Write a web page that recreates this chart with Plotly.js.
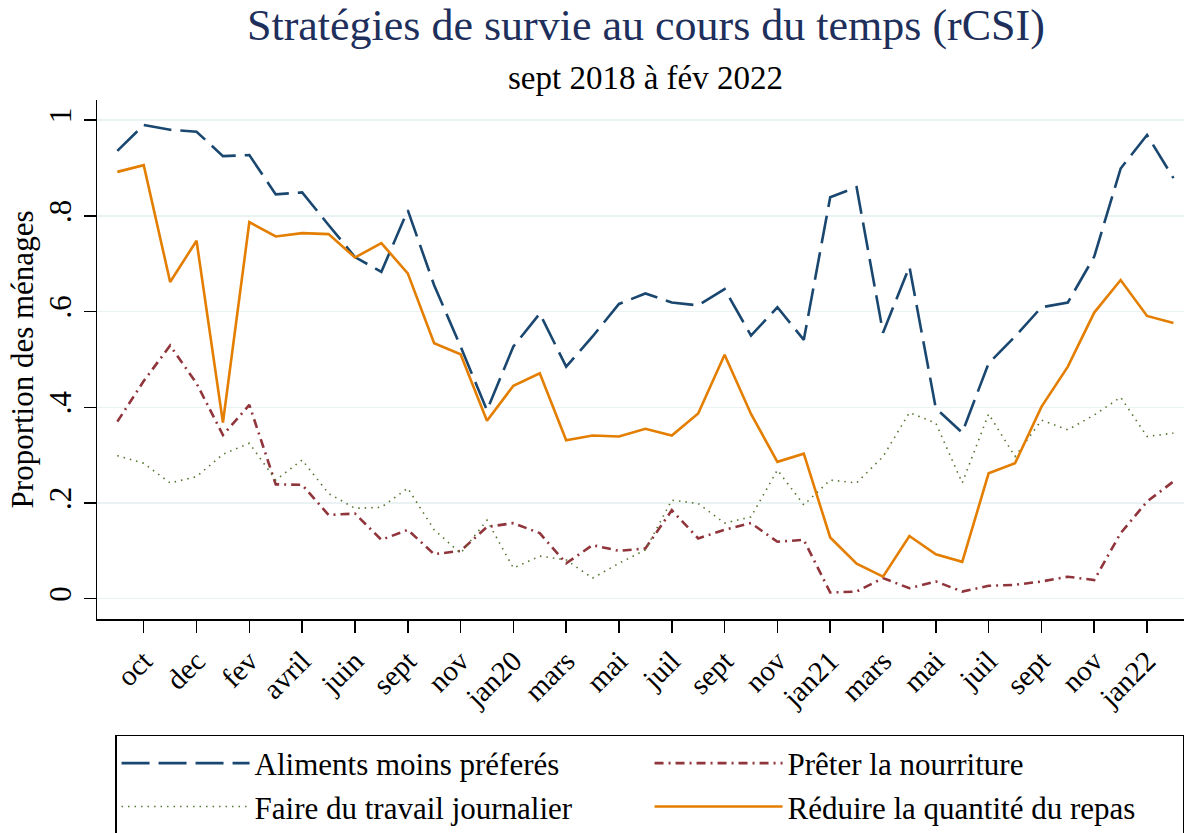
<!DOCTYPE html>
<html>
<head>
<meta charset="utf-8">
<script src="https://cdn.plot.ly/plotly-3.0.1.min.js"></script>
<style>html,body{margin:0;padding:0;background:#fff;}#chart{width:1184px;height:833px;}</style>
</head>
<body>
<div id="chart"></div>
<script>
// Survey months (one month missing in mid-2019)
var months = ["sept18","oct18","nov18","dec18","jan19","fev19","mars19","avril19","mai19","juin19","juil19",
  "sept19","oct19","nov19","dec19","jan20","fev20","mars20","avril20","mai20","juin20","juil20","aout20",
  "sept20","oct20","nov20","dec20","jan21","fev21","mars21","avril21","mai21","juin21","juil21","aout21",
  "sept21","oct21","nov21","dec21","jan22","fev22"];
var tickMonths = ["oct18","dec18","fev19","avril19","juin19","sept19","nov19","jan20","mars20","mai20",
  "juil20","sept20","nov20","jan21","mars21","mai21","juil21","sept21","nov21","jan22"];
var tickLabels = ["oct","dec","fev","avril","juin","sept","nov","jan20","mars","mai",
  "juil","sept","nov","jan21","mars","mai","juil","sept","nov","jan22"];

var aliments = [0.936,0.990,0.980,0.976,0.925,0.927,0.845,0.849,0.781,0.714,0.683,
  0.812,0.655,0.527,0.394,0.527,0.596,0.485,0.548,0.616,0.638,0.619,0.613,
  0.647,0.550,0.609,0.541,0.839,0.860,0.556,0.694,0.398,0.347,0.492,0.548,
  0.609,0.619,0.715,0.899,0.969,0.879];
var preter = [0.370,0.455,0.529,0.450,0.342,0.405,0.239,0.238,0.175,0.178,0.123,
  0.144,0.093,0.100,0.150,0.158,0.137,0.074,0.112,0.100,0.105,0.185,0.126,
  0.144,0.158,0.119,0.123,0.013,0.015,0.043,0.022,0.036,0.015,0.027,0.029,
  0.036,0.046,0.039,0.137,0.203,0.245];
var travail = [0.299,0.283,0.242,0.255,0.302,0.325,0.248,0.290,0.220,0.189,0.191,
  0.231,0.144,0.095,0.164,0.064,0.089,0.081,0.043,0.074,0.102,0.206,0.199,
  0.158,0.171,0.269,0.196,0.248,0.242,0.297,0.389,0.367,0.242,0.386,0.297,
  0.373,0.353,0.384,0.421,0.339,0.346];
var reduire = [0.892,0.906,0.662,0.748,0.368,0.787,0.757,0.764,0.762,0.713,0.743,
  0.680,0.534,0.511,0.372,0.445,0.471,0.331,0.341,0.339,0.355,0.341,0.387,
  0.510,0.386,0.286,0.303,0.128,0.073,0.046,0.131,0.093,0.077,0.262,0.283,
  0.401,0.485,0.598,0.666,0.591,0.576];

var yTicks = [0,0.2,0.4,0.6,0.8,1];
var yTickLabels = ["0",".2",".4",".6",".8","1"];

var titleText = "Stratégies de survie au cours du temps (rCSI)";
var subtitleText = "sept 2018 à fév 2022";

var FONT = "Liberation Serif, Times New Roman, serif";

var traces = [
  {x: months, y: aliments, name: "Aliments moins préferés", type: "scatter", mode: "lines",
   line: {color: "#1a476f", width: 2.6, dash: "28px,9px"}},
  {x: months, y: preter, name: "Prêter la nourriture", type: "scatter", mode: "lines",
   line: {color: "#90353b", width: 2.6, dash: "9px,5px,2px,5px"}},
  {x: months, y: travail, name: "Faire du travail journalier", type: "scatter", mode: "lines",
   line: {color: "#55752f", width: 1.6, dash: "1.5px,5px"}},
  {x: months, y: reduire, name: "Réduire la quantité du repas", type: "scatter", mode: "lines",
   line: {color: "#e37e00", width: 2.6}}
];

var layout = {
  width: 1184, height: 833,
  margin: {l: 97, r: 0, t: 100, b: 214, autoexpand: false},
  paper_bgcolor: "#fff", plot_bgcolor: "#fff",
  font: {family: FONT, color: "#000", size: 30},
  title: {
    text: titleText,
    font: {family: FONT, size: 44, color: "#1e2f5b"},
    x: 0.505, xref: "paper", xanchor: "center",
    y: 0.989, yref: "container", yanchor: "top"
  },
  annotations: [{
    text: subtitleText, xref: "paper", yref: "paper", x: 0.505, y: 1.0424,
    xanchor: "center", yanchor: "middle", showarrow: false,
    font: {family: FONT, size: 33, color: "#000"}
  }],
  showlegend: true,
  legend: {
    orientation: "h", x: 0.0166, y: -0.2235, xanchor: "left", yanchor: "top",
    xref: "paper", yref: "paper",
    entrywidth: 390, entrywidthmode: "pixels", itemwidth: 128,
    bgcolor: "#fff", bordercolor: "#000", borderwidth: 1.5,
    font: {family: FONT, size: 31, color: "#000"}, traceorder: "normal"
  },
  xaxis: {
    type: "category", range: [-0.77, 40.4], categoryorder: "array", categoryarray: months,
    tickmode: "array", tickvals: tickMonths, ticktext: tickLabels, tickangle: -45,
    ticks: "outside", ticklen: 12, tickwidth: 1.5, tickcolor: "#000",
    showline: true, linecolor: "#000", linewidth: 1.5, showgrid: false, zeroline: false,
    tickfont: {family: FONT, size: 29, color: "#000"}, automargin: false
  },
  yaxis: {
    range: [-0.0424, 1.0422], tickmode: "array", tickvals: yTicks, ticktext: yTickLabels,
    tickangle: -90, ticks: "outside", ticklen: 12, tickwidth: 1.5, tickcolor: "#000",
    showline: true, linecolor: "#000", linewidth: 1.5,
    showgrid: true, gridcolor: "#eaf2f3", gridwidth: 1.5, zeroline: false,
    tickfont: {family: FONT, size: 31, color: "#000"}, automargin: false,
    title: {text: "Proportion des ménages", font: {family: FONT, size: 31, color: "#000"}, standoff: 0}
  }
};

Plotly.newPlot("chart", traces, layout, {displayModeBar: false, staticPlot: true});
</script>
</body>
</html>
